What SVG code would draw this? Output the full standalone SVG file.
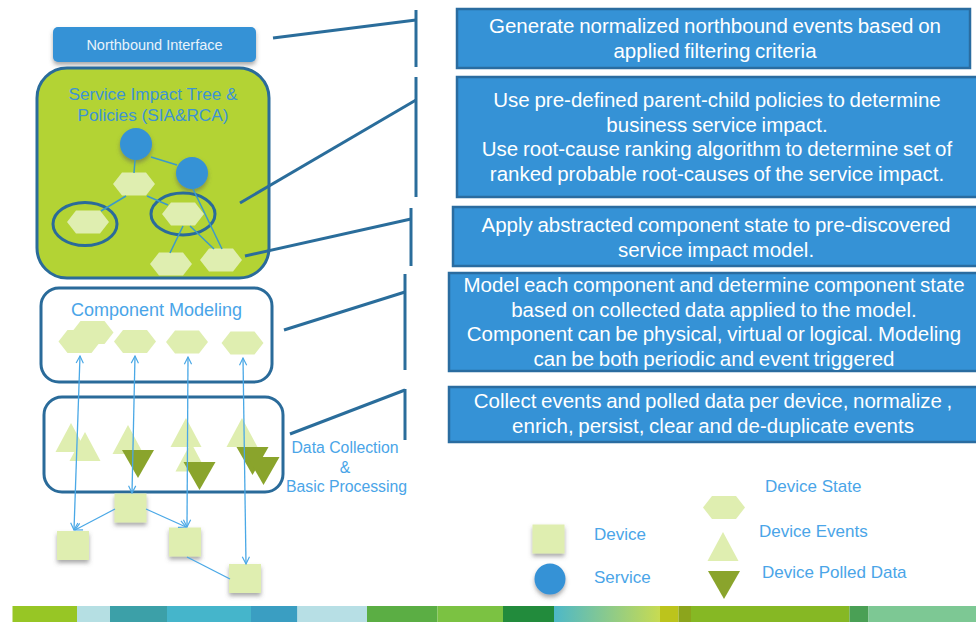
<svg xmlns="http://www.w3.org/2000/svg" width="976" height="622" viewBox="0 0 976 622">
<style>
.t{font-family:"Liberation Sans",Arial,sans-serif}
.rb{fill:#3592d6;stroke:#2a6ca0;stroke-width:2.5}
.rt{font-size:20.5px;fill:#ffffff;text-anchor:middle;word-spacing:-1px}
.lbl{fill:#4aa5e8}
.lgt{font-size:17px}
.dct{font-size:15.8px}
.cmt{font-size:18px}
.cont{fill:#ffffff;stroke:#2a6b9a;stroke-width:3}
.lg{fill:#dfeeb0}
.dk{fill:#8aa42c}
.svc{fill:#3592d6}
.br{stroke:#2a6d9b;stroke-width:3;fill:none}
.ar{stroke:#4aa8e6;stroke-width:1.3;fill:none}
.tl{stroke:#3c99c9;stroke-width:1.5;fill:none}
.ring{fill:none;stroke:#2a6b9a;stroke-width:3}
</style>
<defs>
<filter id="sh" x="-40%" y="-40%" width="180%" height="200%"><feDropShadow dx="0" dy="3" stdDeviation="2" flood-color="#555" flood-opacity="0.5"/></filter>
<polygon id="hex" points="-21,0 -12,-11.5 12,-11.5 21,0 12,11.5 -12,11.5"/>
<polygon id="tup" points="0,-14.5 15.5,14.5 -15.5,14.5"/>
<polygon id="tdn" points="-16,-14 16,-14 0,14"/>
<rect id="sq" x="-16" y="-14.5" width="32" height="29"/>
<marker id="ah" viewBox="0 0 10 10" refX="9" refY="5" markerWidth="9" markerHeight="9" markerUnits="userSpaceOnUse" orient="auto-start-reverse"><path d="M1,1 L9,5 L1,9" fill="none" stroke="#4aa8e6" stroke-width="1.3"/></marker>
<linearGradient id="sg" x1="0" x2="1" y1="0" y2="0"><stop offset="0" stop-color="#4db8c8"/><stop offset="1" stop-color="#c7db52"/></linearGradient>
</defs>
<rect width="976" height="622" fill="#ffffff"/>

<g id="northbound">
<rect x="53" y="27" width="203" height="35" rx="5" fill="#3592d6" filter="url(#sh)"/>
<text class="t" x="154.5" y="50" font-size="14.5" fill="#e8f2fb" text-anchor="middle">Northbound Interface</text>
</g>

<g id="sia">
<rect x="37" y="68" width="232" height="210" rx="30" fill="#b3d334" stroke="#2a6b9a" stroke-width="3"/>
<text class="t" x="153" y="100" font-size="17.2" fill="#3d93d4" text-anchor="middle">Service Impact Tree  &amp;</text>
<text class="t" x="153" y="121" font-size="17.2" fill="#3d93d4" text-anchor="middle">Policies (SIA&amp;RCA)</text>
</g>

<g id="component-modeling">
<rect class="cont" x="41" y="288" width="231" height="94" rx="18"/>
<text class="t lbl cmt" x="156.5" y="316" text-anchor="middle">Component Modeling</text>
</g>

<g id="data-collection">
<rect class="cont" x="44" y="397" width="239" height="95" rx="18"/>
<text class="t lbl dct" x="345" y="453" text-anchor="middle">Data Collection</text>
<text class="t lbl dct" x="345" y="473" text-anchor="middle">&amp;</text>
<text class="t lbl dct" x="346.5" y="492" text-anchor="middle">Basic Processing</text>
</g>

<g id="sia-tree">
<g id="svc1"><circle class="svc" cx="136" cy="144" r="16" filter="url(#sh)"/></g>
<g id="svc2"><circle class="svc" cx="192" cy="173" r="16" filter="url(#sh)"/></g>
<g id="hex-top"><use href="#hex" x="134" y="184" class="lg"/></g>
<g id="hex-left"><use href="#hex" x="88" y="222" class="lg"/><ellipse class="ring" cx="85" cy="224" rx="32" ry="21.5"/></g>
<g id="hex-mid"><use href="#hex" x="183" y="214" class="lg"/><ellipse class="ring" cx="183" cy="214" rx="32" ry="21"/></g>
<g id="hex-bl"><use href="#hex" x="171" y="264" class="lg"/></g>
<g id="hex-br"><use href="#hex" x="221" y="260" class="lg"/></g>
</g>

<g id="cm-states">
<g id="cm1"><use href="#hex" x="92.5" y="332.5" class="lg"/><use href="#hex" x="79.5" y="341.5" class="lg"/></g>
<g id="cm2"><use href="#hex" x="135" y="341.5" class="lg"/></g>
<g id="cm3"><use href="#hex" x="187" y="342" class="lg"/></g>
<g id="cm4"><use href="#hex" x="242.5" y="343" class="lg"/></g>
</g>

<g id="dc-events">
<use href="#tup" x="71" y="437.5" class="lg"/>
<use href="#tup" x="85" y="446.5" class="lg"/>
<use href="#tup" x="128" y="439.5" class="lg"/>
<use href="#tup" x="186" y="432.5" class="lg"/>
<use href="#tup" x="191" y="457" class="lg"/>
<use href="#tup" x="242" y="432.5" class="lg"/>
<use href="#tdn" x="138" y="464" class="dk"/>
<use href="#tdn" x="199.5" y="476" class="dk"/>
<use href="#tdn" x="252.5" y="461" class="dk"/>
<use href="#tdn" x="263.5" y="471" class="dk"/>
</g>

<g id="devices">
<g id="dev1"><use href="#sq" x="130.5" y="508" class="lg" filter="url(#sh)"/></g>
<g id="dev2"><use href="#sq" x="73" y="545.5" class="lg" filter="url(#sh)"/></g>
<g id="dev3"><use href="#sq" x="185" y="542" class="lg" filter="url(#sh)"/></g>
<g id="dev4"><use href="#sq" x="245" y="578.5" class="lg" filter="url(#sh)"/></g>
</g>

<g id="connectors">
<line class="br" x1="273" y1="38" x2="416" y2="20"/>
<line class="br" x1="416" y1="10" x2="416" y2="67"/>
<line class="br" x1="240" y1="203" x2="416" y2="100"/>
<line class="br" x1="416" y1="77" x2="416" y2="197"/>
<line class="br" x1="245" y1="256" x2="411" y2="219"/>
<line class="br" x1="411" y1="208" x2="411" y2="266"/>
<line class="br" x1="284" y1="330" x2="405" y2="292"/>
<line class="br" x1="405" y1="274" x2="405" y2="370"/>
<line class="br" x1="290" y1="434" x2="405" y2="390"/>
<line class="br" x1="405" y1="389" x2="405" y2="440"/>

<line class="tl" x1="151" y1="157" x2="177" y2="165"/>
<line class="tl" x1="135" y1="160" x2="134" y2="173"/>
<line class="tl" x1="126" y1="196" x2="101" y2="211"/>
<line class="tl" x1="147" y1="196" x2="168" y2="205"/>
<line class="tl" x1="193" y1="189" x2="222" y2="249"/>
<line class="tl" x1="183" y1="226" x2="170" y2="253"/>
<line class="tl" x1="190" y1="226" x2="214" y2="249"/>

<line class="ar" x1="80" y1="356" x2="74" y2="530" marker-start="url(#ah)" marker-end="url(#ah)"/>
<line class="ar" x1="135" y1="356" x2="132" y2="493" marker-start="url(#ah)" marker-end="url(#ah)"/>
<line class="ar" x1="188" y1="357" x2="187" y2="527" marker-start="url(#ah)" marker-end="url(#ah)"/>
<line class="ar" x1="243" y1="358" x2="246" y2="564" marker-start="url(#ah)" marker-end="url(#ah)"/>
<line class="ar" x1="115" y1="509" x2="75" y2="530" marker-end="url(#ah)"/>
<line class="ar" x1="146" y1="509" x2="186" y2="527" marker-end="url(#ah)"/>
<line class="ar" x1="187" y1="557" x2="230" y2="579"/>
</g>

<g id="desc-northbound">
<rect class="rb" x="457" y="9" width="513" height="59"/>
<text class="t rt" x="715" y="33">Generate normalized northbound events based on</text>
<text class="t rt" x="715" y="58">applied filtering criteria</text>
</g>
<g id="desc-sia">
<rect class="rb" x="457" y="77" width="525" height="120"/>
<text class="t rt" x="717" y="107">Use pre-defined parent-child policies to determine</text>
<text class="t rt" x="717" y="132">business service impact.</text>
<text class="t rt" x="717" y="156">Use root-cause ranking algorithm to determine set of</text>
<text class="t rt" x="717" y="181">ranked probable root-causes of the service impact.</text>
</g>
<g id="desc-apply">
<rect class="rb" x="453" y="207" width="529" height="59"/>
<text class="t rt" x="716" y="232">Apply abstracted component state to pre-discovered</text>
<text class="t rt" x="716" y="257">service impact model.</text>
</g>
<g id="desc-model">
<rect class="rb" x="449" y="273" width="533" height="98"/>
<text class="t rt" x="714" y="292">Model each component and determine component state</text>
<text class="t rt" x="714" y="317">based on collected data applied to the model.</text>
<text class="t rt" x="714" y="341">Component can be physical, virtual or logical. Modeling</text>
<text class="t rt" x="714" y="366">can be both periodic and event triggered</text>
</g>
<g id="desc-collect">
<rect class="rb" x="449" y="387" width="533" height="55"/>
<text class="t rt" x="713" y="408">Collect events and polled data per device, normalize ,</text>
<text class="t rt" x="713" y="433">enrich, persist, clear and de-duplicate events</text>
</g>

<g id="legend">
<use href="#sq" x="548.5" y="539" class="lg" filter="url(#sh)"/>
<text class="t lbl lgt" x="594" y="540">Device</text>
<circle class="svc" cx="550" cy="579" r="15.5" filter="url(#sh)"/>
<text class="t lbl lgt" x="594" y="583">Service</text>
<use href="#hex" x="724" y="507.5" class="lg"/>
<text class="t lbl lgt" x="765" y="492">Device State</text>
<use href="#tup" x="723" y="546.5" class="lg"/>
<text class="t lbl lgt" x="759" y="537">Device Events</text>
<use href="#tdn" x="724" y="585" class="dk"/>
<text class="t lbl lgt" x="762" y="578">Device Polled Data</text>
</g>

<g id="stripe">
<rect x="12.5" y="606" width="64.5" height="16" fill="#97c625"/>
<rect x="77" y="606" width="33" height="16" fill="#b5dfe3"/>
<rect x="110" y="606" width="57" height="16" fill="#3ca0a8"/>
<rect x="167" y="606" width="84" height="16" fill="#45b5cb"/>
<rect x="251" y="606" width="46.5" height="16" fill="#3a9ec2"/>
<rect x="297.5" y="606" width="69.5" height="16" fill="#b7dfe5"/>
<rect x="367" y="606" width="70.5" height="16" fill="#5bae44"/>
<rect x="437.5" y="606" width="65.5" height="16" fill="#7bc242"/>
<rect x="503" y="606" width="51" height="16" fill="#228b3c"/>
<rect x="554" y="606" width="106" height="16" fill="url(#sg)"/>
<rect x="660" y="606" width="18.5" height="16" fill="#bcc41c"/>
<rect x="678.5" y="606" width="12.5" height="16" fill="#8ca51c"/>
<rect x="691" y="606" width="158.5" height="16" fill="#86b824"/>
<rect x="849.5" y="606" width="19" height="16" fill="#4aa055"/>
<rect x="868.5" y="606" width="107.5" height="16" fill="#7dc894"/>
</g>
</svg>
